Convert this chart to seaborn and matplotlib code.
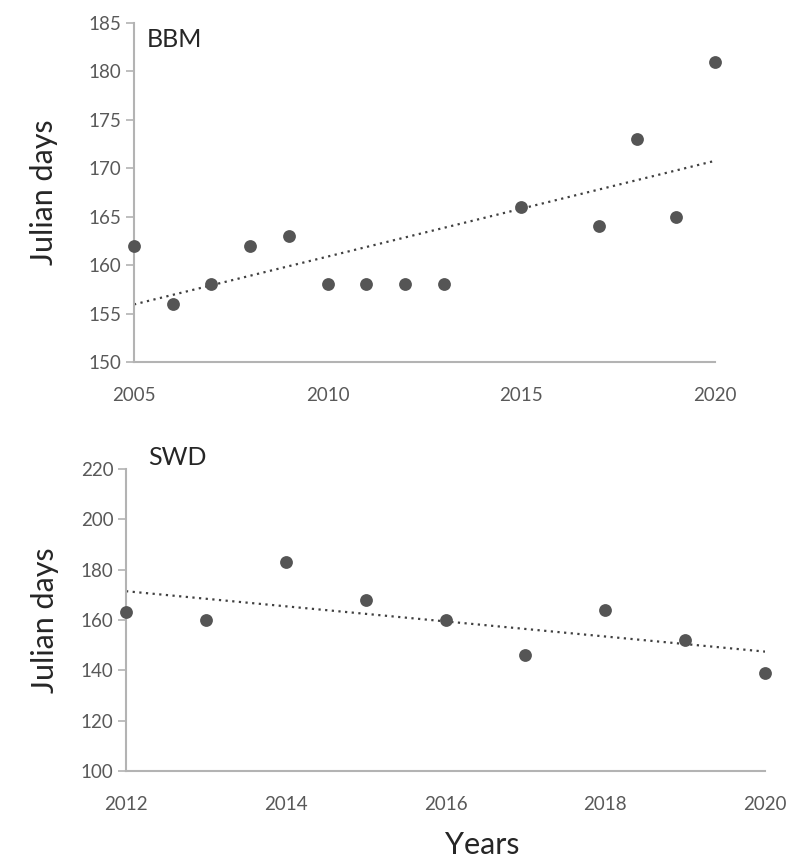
import numpy as np
import pandas as pd
import matplotlib
matplotlib.use("Agg")
import matplotlib.pyplot as plt
import seaborn as sns

# BBM series
bbm_years = [2005, 2006, 2007, 2008, 2009, 2010, 2011, 2012, 2013, 2015, 2017, 2018, 2019, 2020]
bbm_days = [162, 156, 158, 162, 163, 158, 158, 158, 158, 166, 164, 173, 165, 181]

# SWD series
swd_years = [2012, 2013, 2014, 2015, 2016, 2017, 2018, 2019, 2020]
swd_days = [163, 160, 183, 168, 160, 146, 164, 152, 139]

sns.set_theme(style="white")
plt.rcParams["font.family"] = ["Lato", "DejaVu Sans"]

tick_col = "#595959"
spine_col = "#b3b3b3"
dot_col = "#555555"

fig = plt.figure(figsize=(7.9, 8.61), dpi=100)
ax1 = fig.add_axes([0.1696, 0.5796, 0.7354, 0.3937])
ax2 = fig.add_axes([0.1595, 0.1045, 0.8089, 0.3508])

panels = [
    (ax1, pd.DataFrame({"year": bbm_years, "days": bbm_days}), "BBM",
     (2005, 2020), [2005, 2010, 2015, 2020], (150, 185), np.arange(150, 186, 5)),
    (ax2, pd.DataFrame({"year": swd_years, "days": swd_days}), "SWD",
     (2012, 2020), [2012, 2014, 2016, 2018, 2020], (100, 220), np.arange(100, 221, 20)),
]

for ax, df, name, xl, xt, yl, yt in panels:
    sns.regplot(data=df, x="year", y="days", ax=ax, ci=None,
                scatter_kws={"s": 85, "color": dot_col, "alpha": 1, "clip_on": False,
                             "zorder": 3, "linewidths": 0},
                line_kws={"color": "#404040", "linestyle": (0, (1, 2)), "linewidth": 1.6})
    ax.set_xlim(*xl)
    ax.set_ylim(*yl)
    ax.set_xticks(xt)
    ax.set_yticks(yt)
    for s in ["top", "right"]:
        ax.spines[s].set_visible(False)
    for s in ["left", "bottom"]:
        ax.spines[s].set_color(spine_col)
        ax.spines[s].set_linewidth(1.5)
    ax.tick_params(axis="y", left=True, length=6, width=1.2, color=spine_col,
                   labelsize=13.5, labelcolor=tick_col, pad=3)
    ax.tick_params(axis="x", bottom=False, labelsize=13.5, labelcolor=tick_col, pad=12)
    ax.set_xlabel("")

ax1.set_ylabel("Julian days", fontsize=22, labelpad=22)
ax2.set_ylabel("Julian days", fontsize=22, labelpad=16)
ax1.text(0.022, 0.985, "BBM", transform=ax1.transAxes, fontsize=18, va="top", ha="left")
ax2.text(0.034, 1.075, "SWD", transform=ax2.transAxes, fontsize=18, va="top", ha="left")
fig.text(482 / 790, 1 - 845 / 861, "Years", fontsize=22, ha="center", va="center")

fig.savefig("out.png", dpi=100)
